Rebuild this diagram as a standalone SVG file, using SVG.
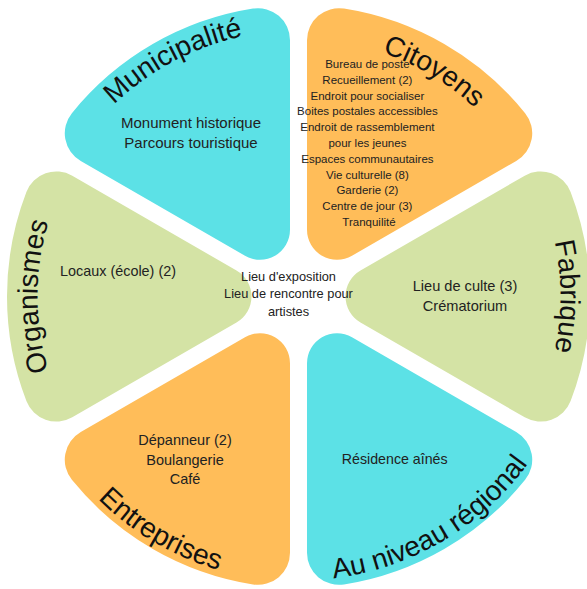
<svg xmlns="http://www.w3.org/2000/svg" xmlns:xlink="http://www.w3.org/1999/xlink" width="587" height="589" viewBox="0 0 587 589">
<style>
.title{font-family:"Liberation Sans",Arial,sans-serif;font-size:28px;fill:#111;}
.body{font-family:"Liberation Sans",Arial,sans-serif;fill:#222;text-anchor:middle;}
.cyan{fill:#5ce1e6;}
.orange{fill:#ffbd59;}
.green{fill:#d4e3a5;}
</style>
<defs>
<path id="petal" d="M62,-25.98 L226.23,-120.8 A32 32 0 0 1 272.1,-104.57 A291.5 291.5 0 0 1 272.1,104.57 A32 32 0 0 1 226.23,120.8 L62,25.98 A30 30 0 0 1 62,-25.98 Z"/>
<path id="arcMun" d="M32.5,287.2 A266 266 0 0 1 439.5,70.9"/>
<path id="arcCit" d="M173.4,70.85 A258 258 0 0 1 556.5,301"/>
<path id="arcFab" d="M429.5,69.6 A262 262 0 0 1 429.5,523.4"/>
<path id="arcOrg" d="M168,522.5 A261 261 0 0 1 168,70.5"/>
<path id="arcEnt" d="M13.5,294 A285 285 0 0 0 438.8,544.5"/>
<path id="arcReg" d="M158.7,543.7 A284 284 0 0 0 582.5,294"/>
</defs>
<g id="connectors"/>
<g id="fabrique">
<use xlink:href="#petal" class="green" transform="translate(298.5,296.5) rotate(0)"/>
<text class="title"><textPath xlink:href="#arcFab" startOffset="50%" text-anchor="middle">Fabrique</textPath></text>
<text class="body" font-size="14.6"><tspan x="465" y="290.7">Lieu de culte (3)</tspan><tspan x="465" y="311">Crématorium</tspan></text>
</g>
<g id="regional">
<use xlink:href="#petal" class="cyan" transform="translate(298.5,296.5) rotate(60)"/>
<text class="title" font-size="29"><textPath xlink:href="#arcReg" startOffset="50%" text-anchor="middle">Au niveau régional</textPath></text>
<text class="body" font-size="14.2"><tspan x="394.7" y="464">Résidence aînés</tspan></text>
</g>
<g id="entreprises">
<use xlink:href="#petal" class="orange" transform="translate(298.5,296.5) rotate(120)"/>
<text class="title"><textPath xlink:href="#arcEnt" startOffset="50%" text-anchor="middle">Entreprises</textPath></text>
<text class="body" font-size="14.5"><tspan x="185" y="445">Dépanneur (2)</tspan><tspan x="185" y="464.5">Boulangerie</tspan><tspan x="185" y="484">Café</tspan></text>
</g>
<g id="organismes">
<use xlink:href="#petal" class="green" transform="translate(298.5,296.5) rotate(180)"/>
<text class="title"><textPath xlink:href="#arcOrg" startOffset="50%" text-anchor="middle">Organismes</textPath></text>
<text class="body" font-size="14.4"><tspan x="118" y="276">Locaux (école) (2)</tspan></text>
</g>
<g id="municipalite">
<use xlink:href="#petal" class="cyan" transform="translate(298.5,296.5) rotate(240)"/>
<text class="title"><textPath xlink:href="#arcMun" startOffset="50%" text-anchor="middle">Municipalité</textPath></text>
<text class="body" font-size="15"><tspan x="191" y="128">Monument historique</tspan><tspan x="191" y="148">Parcours touristique</tspan></text>
</g>
<g id="citoyens">
<use xlink:href="#petal" class="orange" transform="translate(298.5,296.5) rotate(300)"/>
<text class="title"><textPath xlink:href="#arcCit" startOffset="50%" text-anchor="middle">Citoyens</textPath></text>
<text class="body" font-size="11.5">
<tspan x="369" y="68">Bureau de poste</tspan>
<tspan x="369" y="83.8">Recueillement (2)</tspan>
<tspan x="369" y="99.6">Endroit pour socialiser</tspan>
<tspan x="369" y="115.4">Boites postales accessibles</tspan>
<tspan x="369" y="131.2">Endroit de rassemblement</tspan>
<tspan x="369" y="147">pour les jeunes</tspan>
<tspan x="369" y="162.8">Espaces communautaires</tspan>
<tspan x="369" y="178.6">Vie culturelle (8)</tspan>
<tspan x="369" y="194.4">Garderie (2)</tspan>
<tspan x="369" y="210.2">Centre de jour (3)</tspan>
<tspan x="369" y="226">Tranquilité</tspan>
</text>
</g>
<g id="center">
<text class="body" font-size="12.8"><tspan x="288.5" y="280.7">Lieu d'exposition</tspan><tspan x="288.5" y="298.3">Lieu de rencontre pour</tspan><tspan x="288.5" y="316">artistes</tspan></text>
</g>
</svg>
